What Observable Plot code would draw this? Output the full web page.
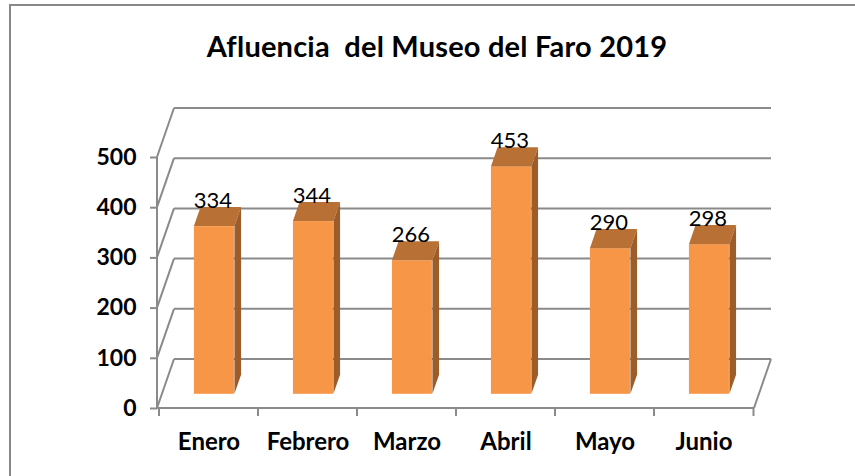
<!DOCTYPE html>
<html>
<head>
<meta charset="utf-8">
<script src="https://cdn.jsdelivr.net/npm/d3@7"></script>
<script src="https://cdn.jsdelivr.net/npm/@observablehq/plot@0.6"></script>
<style>
  html, body { margin: 0; padding: 0; background: #fff; overflow: hidden; }
  #wrap { position: relative; width: 855px; height: 476px; overflow: hidden; font-family: Lato, "Open Sans", sans-serif; }
  #frame { position: absolute; left: 9px; top: 4px; width: 900px; height: 520px; border-left: 2px solid #888; border-top: 2px solid #888; }
  #title { position: absolute; left: 0; top: 28px; width: 874px; text-align: center; font-family: Lato, sans-serif; font-weight: bold; font-size: 29px; color: #000; letter-spacing: 0.2px; }
  #chart { position: absolute; left: 0; top: 0; }
</style>
</head>
<body>
<div id="wrap">
  <div id="frame"></div>
  <div id="chart"></div>
  <div id="title">Afluencia&nbsp; del Museo del Faro 2019</div>
</div>
<script>
const months = ["Enero", "Febrero", "Marzo", "Abril", "Mayo", "Junio"];
const visitors = [334, 344, 266, 453, 290, 298];
const yTicks = [0, 100, 200, 300, 400, 500];

const data = months.map((m, i) => ({month: m, value: visitors[i]}));

// oblique 3D projection: full depth vector (front wall -> back wall)
const DX = 17, DY = -49;
const FRONT = 0.29, BACK = 0.68; // depth of bar front and back faces
const INSET_L = 30, INSET_R = 29;
const GRID = "#8a8a8a";

function walls(index, scales, values, dims) {
  const {x, y} = scales;
  const L = dims.marginLeft, R = dims.width - dims.marginRight;
  const g = d3.create("svg:g").attr("fill", "none").attr("stroke", GRID).attr("stroke-width", 2);
  const y0 = y(0);
  for (const v of yTicks) {
    const yv = y(v);
    g.append("line").attr("x1", L + DX).attr("x2", R + DX).attr("y1", yv + DY).attr("y2", yv + DY);
    g.append("line").attr("x1", L).attr("x2", L + DX).attr("y1", yv).attr("y2", yv + DY);
  }
  g.append("line").attr("x1", L).attr("x2", L).attr("y1", y0).attr("y2", y(yTicks[yTicks.length - 1]));
  g.append("line").attr("x1", L).attr("x2", R).attr("y1", y0).attr("y2", y0);
  g.append("line").attr("x1", R).attr("x2", R + DX).attr("y1", y0).attr("y2", y0 + DY);
  const bw = (R - L) / months.length;
  const edges = months.map(m => x(m)).concat([x(months[months.length - 1]) + bw]);
  for (const ex of edges) {
    g.append("line").attr("x1", ex).attr("x2", ex).attr("y1", y0).attr("y2", y0 + 8);
  }
  return g.node();
}

function faces(index, scales, values, dims) {
  const {x, y} = scales;
  const L = dims.marginLeft, R = dims.width - dims.marginRight;
  const bw = (R - L) / months.length;
  const g = d3.create("svg:g");
  const ddx = (BACK - FRONT) * DX, ddy = (BACK - FRONT) * DY;
  for (const d of data) {
    const x0 = x(d.month) + INSET_L + FRONT * DX;
    const x1 = x(d.month) + bw - INSET_R + FRONT * DX;
    const yt = y(d.value) + FRONT * DY;
    const yb = y(0) + FRONT * DY;
    g.append("path").attr("fill", "#B97035")
      .attr("d", `M${x0},${yt}L${x1},${yt}L${x1 + ddx},${yt + ddy}L${x0 + ddx},${yt + ddy}Z`);
    g.append("path").attr("fill", "#9C5D2A")
      .attr("d", `M${x1},${yt}L${x1 + ddx},${yt + ddy}L${x1 + ddx},${yb + ddy}L${x1},${yb}Z`);
  }
  return g.node();
}

const chart = Plot.plot({
  width: 855,
  height: 476,
  marginLeft: 157,
  marginRight: 101,
  marginTop: 157,
  marginBottom: 68,
  style: {fontFamily: "Lato, sans-serif", background: "transparent", color: "#000"},
  x: {type: "band", domain: months, padding: 0},
  y: {domain: [0, 500]},
  marks: [
    walls,
    Plot.axisY({ticks: yTicks, tickSize: 7, tickPadding: 14, fontSize: 23, fontWeight: "bold", stroke: GRID, strokeWidth: 2, label: null, tickFormat: d => String(d)}),
    Plot.axisX({tickSize: 0, tickPadding: 24, fontSize: 24, fontWeight: "bold", label: null}),
    Plot.barY(data, {x: "month", y: "value", fill: "#F79646", insetLeft: INSET_L, insetRight: INSET_R, dx: FRONT * DX, dy: FRONT * DY}),
    faces,
    Plot.text(data, {x: "month", y: "value", text: d => String(d.value), fontSize: 22, fill: "#000", lineAnchor: "bottom", dx: FRONT * DX - 1, dy: FRONT * DY - 19})
  ]
});
document.getElementById("chart").appendChild(chart);
</script>
</body>
</html>
